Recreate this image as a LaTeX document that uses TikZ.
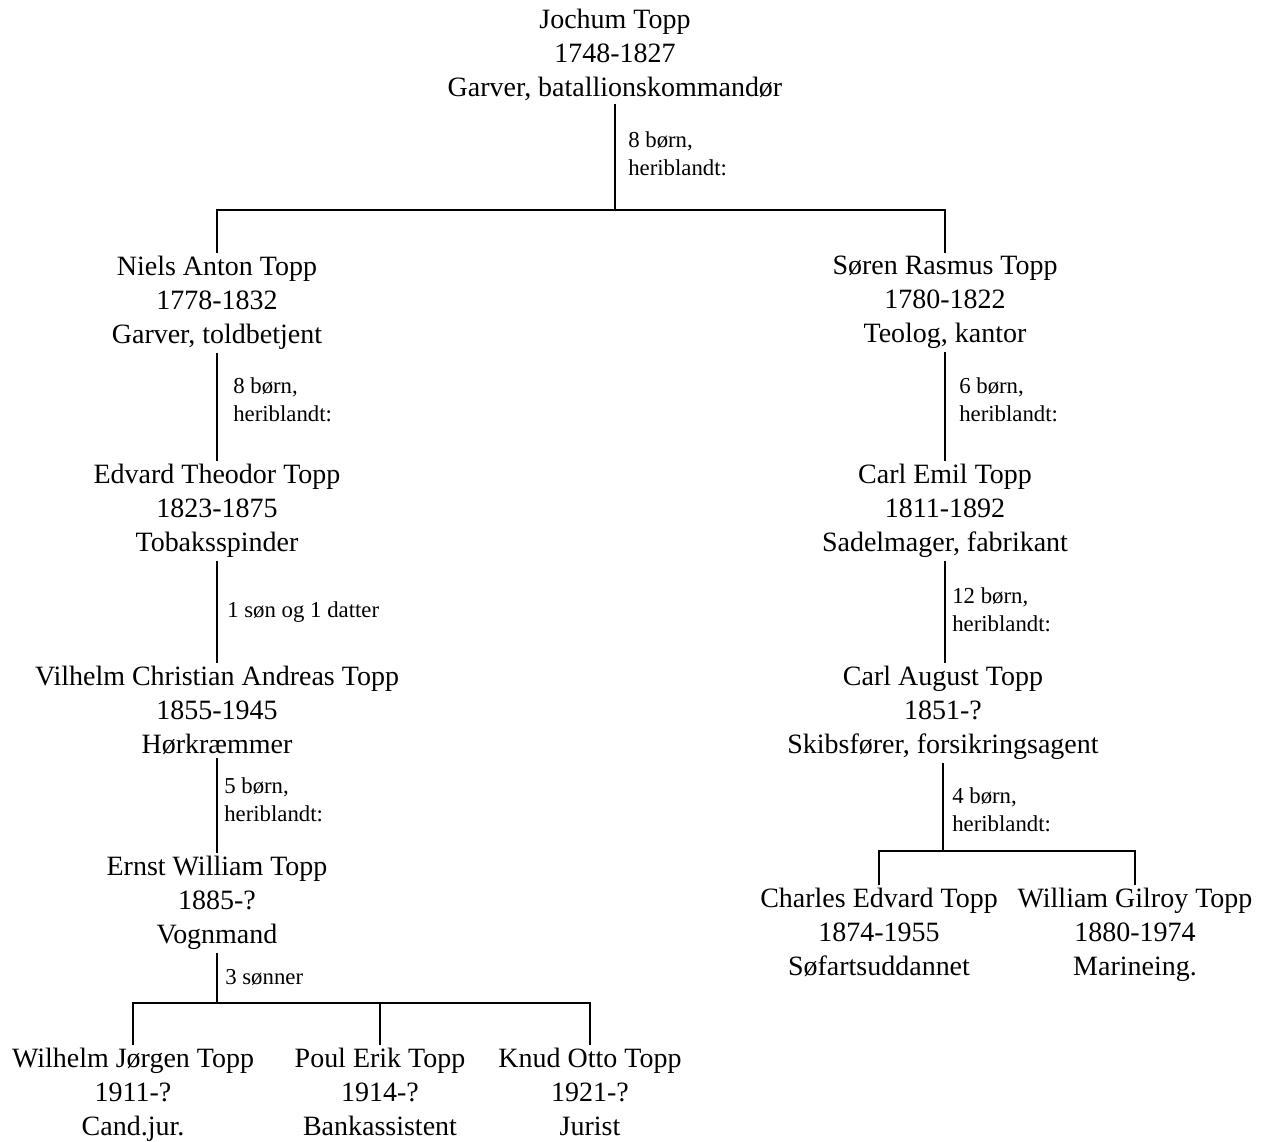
\documentclass[tikz,border=0pt]{standalone}
\usepackage{fontspec}
\setmainfont{Liberation Serif}
\tikzset{
  person/.style={align=center, anchor=north, inner sep=2.1pt, font=\fontsize{19.9pt}{24.2pt}\selectfont},
  kids/.style={align=left, anchor=north west, inner sep=0pt, font=\fontsize{16.2pt}{20.3pt}\selectfont},
  line/.style={line width=0.9pt}
}
\begin{document}
\begin{tikzpicture}[x=0.025cm, y=-0.025cm]
\useasboundingbox (0,0) rectangle (1270,1142);
\node[person] (jochum) at (615,6){Jochum Topp\\1748-1827\\Garver, batallionskommandør};
\coordinate (fork0) at (615,210);
\node[person] (niels) at (217,253){Niels Anton Topp\\1778-1832\\Garver, toldbetjent};
\node[person] (soeren) at (945,253){Søren Rasmus Topp\\1780-1822\\Teolog, kantor};
\draw[line] (jochum.south) -- (fork0);
\draw[line] (niels.north) |- (fork0) -| (soeren.north);
\node[kids] (kid0) at (628,131){8 børn,\\heriblandt:};

\node[person] (edvard) at (217,461){Edvard Theodor Topp\\1823-1875\\Tobaksspinder};
\draw[line] (niels.south) -- (edvard.north);
\node[kids] (kid1) at (233,377){8 børn,\\heriblandt:};
\node[person] (vilhelm) at (217,663){Vilhelm Christian Andreas Topp\\1855-1945\\Hørkræmmer};
\draw[line] (edvard.south) -- (vilhelm.north);
\node[kids] (kid2) at (227,601){1 søn og 1 datter};
\node[person] (ernst) at (217,853){Ernst William Topp\\1885-?\\Vognmand};
\draw[line] (vilhelm.south) -- (ernst.north);
\node[kids] (kid3) at (224,777){5 børn,\\heriblandt:};

\coordinate (fork1) at (217,1003);
\node[person] (wilhelm) at (133,1045){Wilhelm Jørgen Topp\\1911-?\\Cand.jur.};
\node[person] (poul) at (380,1045){Poul Erik Topp\\1914-?\\Bankassistent};
\node[person] (knud) at (590,1045){Knud Otto Topp\\1921-?\\Jurist};
\draw[line] (ernst.south) -- (fork1);
\draw[line] (wilhelm.north) |- (fork1) -| (knud.north);
\draw[line] (poul.north) -- (poul.north |- fork1);
\node[kids] (kid4) at (225,969){3 sønner};

\node[person] (carlemil) at (945,461){Carl Emil Topp\\1811-1892\\Sadelmager, fabrikant};
\draw[line] (soeren.south) -- (carlemil.north);
\node[kids] (kid5) at (959,377){6 børn,\\heriblandt:};
\node[person] (carlaug) at (943,663){Carl August Topp\\1851-?\\Skibsfører, forsikringsagent};
\draw[line] (carlemil.south) -- (carlemil.south |- carlaug.north);
\node[kids] (kid6) at (952,587){12 børn,\\heriblandt:};

\coordinate (fork2) at (943,851);
\node[person] (charles) at (879,885){Charles Edvard Topp\\1874-1955\\Søfartsuddannet};
\node[person] (william) at (1135,885){William Gilroy Topp\\1880-1974\\Marineing.};
\draw[line] (carlaug.south) -- (fork2);
\draw[line] (charles.north) |- (fork2) -| (william.north);
\node[kids] (kid7) at (952,787){4 børn,\\heriblandt:};
\end{tikzpicture}
\end{document}
